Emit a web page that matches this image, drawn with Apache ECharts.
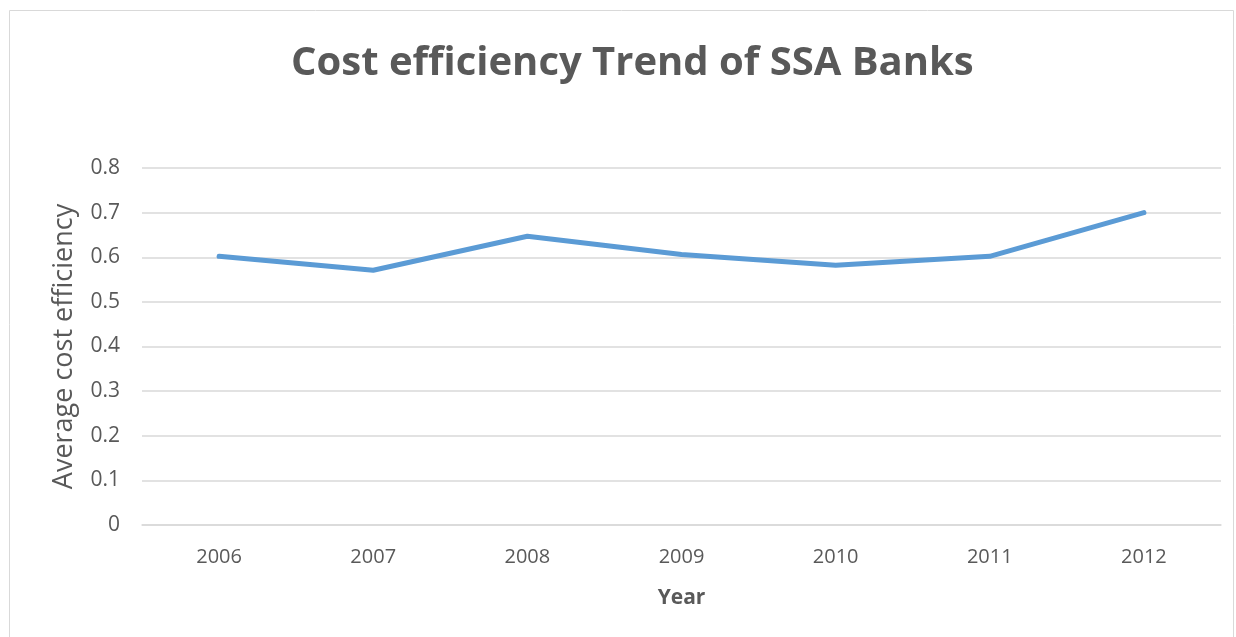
<!DOCTYPE html>
<html>
<head>
<meta charset="utf-8">
<style>
  html, body { margin: 0; padding: 0; background: #fff; }
  #chart { width: 1236px; height: 637px; }
</style>
<script src="https://cdn.jsdelivr.net/npm/echarts@6/dist/echarts.min.js"></script>
</head>
<body>
<div id="chart"></div>
<script>
const years = ["2006", "2007", "2008", "2009", "2010", "2011", "2012"];
const costEfficiency = [0.602, 0.571, 0.647, 0.606, 0.582, 0.602, 0.700];
const yTicks = { min: 0, max: 0.8, interval: 0.1 };

const chart = echarts.init(document.getElementById("chart"));
const font = "'Open Sans', 'Liberation Sans', sans-serif";

chart.setOption({
  animation: false,
  textStyle: { fontFamily: font },
  title: {
    text: "Cost efficiency Trend of SSA Banks",
    left: 286,
    top: 39,
    textStyle: { fontSize: 40, fontWeight: "bold", color: "#595959", fontFamily: font },
  },
  graphic: [
    {
      type: "rect",
      shape: { x: 9.5, y: 10.5, width: 1224, height: 640 },
      style: { fill: "none", stroke: "#d9d9d9", lineWidth: 1 },
      silent: true,
    },
  ],
  grid: { left: 142, right: 15, top: 168, bottom: 112 },
  xAxis: {
    type: "category",
    data: years,
    boundaryGap: true,
    name: "Year",
    nameLocation: "middle",
    nameGap: 63,
    nameTextStyle: { fontSize: 21, fontWeight: "bold", color: "#595959" },
    axisLine: { lineStyle: { color: "#d9d9d9", width: 1.5 } },
    axisTick: { show: false },
    axisLabel: { fontSize: 20, color: "#595959", margin: 22 },
  },
  yAxis: {
    type: "value",
    min: yTicks.min,
    max: yTicks.max,
    interval: yTicks.interval,
    name: "Average cost efficiency",
    nameLocation: "middle",
    nameGap: 64,
    nameTextStyle: { fontSize: 27, color: "#595959" },
    axisLine: { show: false },
    axisTick: { show: false },
    axisLabel: {
      fontSize: 21,
      color: "#595959",
      margin: 22,
      formatter: (v) => String(Math.round(v * 10) / 10),
    },
    splitLine: { lineStyle: { color: "#d9d9d9", width: 1.5 } },
  },
  series: [
    {
      type: "line",
      data: costEfficiency,
      showSymbol: false,
      lineStyle: { color: "#5B9BD5", width: 5, cap: "round", join: "round" },
    },
  ],
});
</script>
</body>
</html>
